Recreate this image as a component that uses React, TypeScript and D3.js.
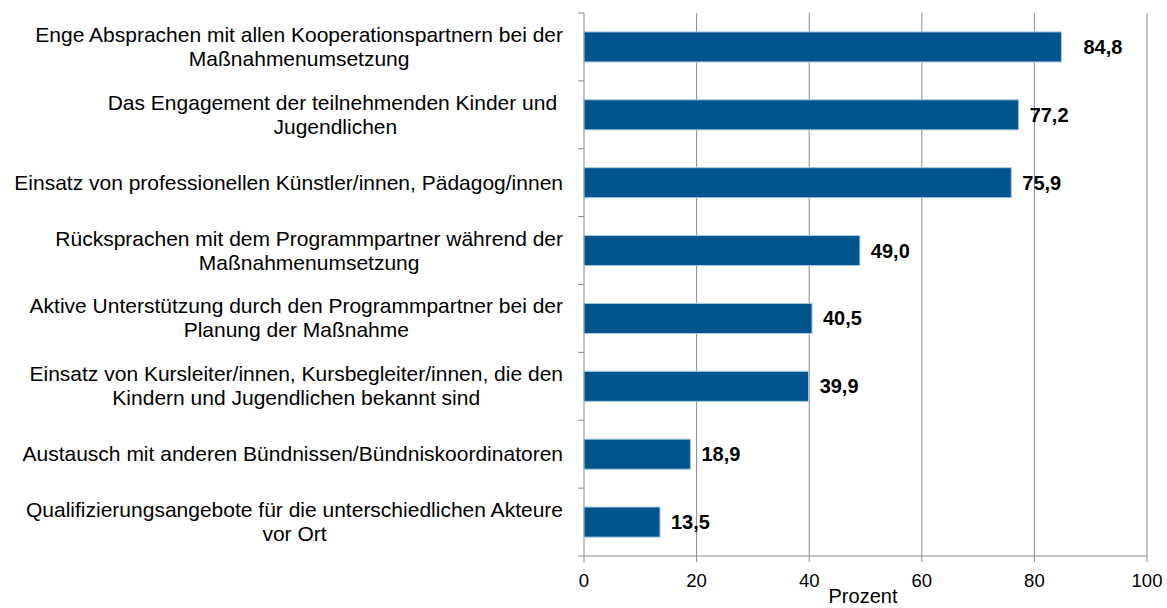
import React, { useEffect, useRef } from 'react';
import * as d3 from 'd3';

// Kategorien (Zeilen getrennt durch \n)
const categories: string[] = [
  'Enge Absprachen mit allen Kooperationspartnern bei der\nMaßnahmenumsetzung',
  'Das Engagement der teilnehmenden Kinder und \nJugendlichen',
  'Einsatz von professionellen Künstler/innen, Pädagog/innen',
  'Rücksprachen mit dem Programmpartner während der\nMaßnahmenumsetzung',
  'Aktive Unterstützung durch den Programmpartner bei der\nPlanung der Maßnahme',
  'Einsatz von Kursleiter/innen, Kursbegleiter/innen, die den\nKindern und Jugendlichen bekannt sind',
  'Austausch mit anderen Bündnissen/Bündniskoordinatoren',
  'Qualifizierungsangebote für die unterschiedlichen Akteure\nvor Ort',
];
const values: number[] = [84.8, 77.2, 75.9, 49.0, 40.5, 39.9, 18.9, 13.5];
const xTicks: number[] = [0, 20, 40, 60, 80, 100];
const xTitle = 'Prozent';

const App = () => {
  const svgRef = useRef<SVGSVGElement>(null);

  useEffect(() => {
    const svg = d3.select(svgRef.current);
    svg.selectAll('*').remove();

    const width = 1167;
    const height = 608;
    const margin = { top: 13, right: 20, bottom: 52, left: 584 };
    const font = 'Arial, "Liberation Sans", sans-serif';

    svg.attr('width', width).attr('height', height);

    const x = d3.scaleLinear().domain([0, 100]).range([margin.left, 1147]);
    const y = d3.scaleBand()
      .domain(categories.map((_, i) => String(i)))
      .range([margin.top, height - margin.bottom])
      .paddingInner(0.557)
      .paddingOuter(0.2785);
    const yEdges = d3.scaleLinear().domain([0, categories.length]).range([margin.top, height - margin.bottom]);

    const grid = '#8c8c8c';
    const bottom = height - margin.bottom;

    // Gitterlinien
    svg.append('g')
      .selectAll('line')
      .data(xTicks.filter(d => d > 0))
      .enter().append('line')
      .attr('x1', d => x(d)).attr('x2', d => x(d))
      .attr('y1', margin.top).attr('y2', bottom + 6)
      .attr('stroke', grid).attr('stroke-width', 1);

    // Balken
    svg.append('g')
      .selectAll('rect')
      .data(values)
      .enter().append('rect')
      .attr('x', x(0))
      .attr('y', (_, i) => y(String(i))!)
      .attr('width', d => x(d) - x(0))
      .attr('height', y.bandwidth())
      .attr('fill', '#00558f')
      .attr('stroke', '#a9c9e3')
      .attr('stroke-width', 1);

    // Y-Achse
    svg.append('line')
      .attr('x1', x(0)).attr('x2', x(0))
      .attr('y1', margin.top).attr('y2', bottom + 6)
      .attr('stroke', grid);
    svg.append('g')
      .selectAll('line')
      .data(d3.range(categories.length + 1))
      .enter().append('line')
      .attr('x1', x(0) - 6).attr('x2', x(0))
      .attr('y1', d => yEdges(d)).attr('y2', d => yEdges(d))
      .attr('stroke', grid);

    // X-Achse
    svg.append('line')
      .attr('x1', x(0)).attr('x2', x(100))
      .attr('y1', bottom).attr('y2', bottom)
      .attr('stroke', grid);
    svg.append('g')
      .selectAll('text')
      .data(xTicks)
      .enter().append('text')
      .attr('x', d => x(d))
      .attr('y', bottom + 31)
      .attr('text-anchor', 'middle')
      .style('font-family', font)
      .style('font-size', '18.5px')
      .attr('fill', '#000')
      .text(d => d);

    svg.append('text')
      .attr('x', 863)
      .attr('y', 603)
      .attr('text-anchor', 'middle')
      .style('font-family', font)
      .style('font-size', '20px')
      .text(xTitle);

    // Werte
    svg.append('g')
      .selectAll('text')
      .data(values)
      .enter().append('text')
      .attr('x', (d, i) => x(d) + (i === 0 ? 22 : 11))
      .attr('y', (_, i) => y(String(i))! + y.bandwidth() / 2 + 7)
      .style('font-family', font)
      .style('font-size', '20px')
      .style('font-weight', 'bold')
      .text(d => d3.format('.1f')(d).replace('.', ','));

    // Kategorien (zentrierter Block, rechtsbündig an x=563)
    const right = 563;
    const lineH = 24;
    categories.forEach((c, i) => {
      const lines = c.split('\n');
      const g = svg.append('g');
      const cy = y(String(i))! + y.bandwidth() / 2;
      const texts = lines.map((l, j) => g.append('text')
        .attr('y', cy + (j - (lines.length - 1) / 2) * lineH + 7)
        .attr('text-anchor', 'middle')
        .style('font-family', font)
        .style('font-size', '21px')
        .style('white-space', 'pre')
        .attr('fill', '#000')
        .text(l));
      const maxW = d3.max(texts, t => (t.node() as SVGTextElement).getComputedTextLength()) || 0;
      texts.forEach(t => t.attr('x', right - maxW / 2));
    });
  }, []);

  return <svg ref={svgRef} style={{ position: 'absolute', left: 0, top: 0 }}></svg>;
};

export default App;
